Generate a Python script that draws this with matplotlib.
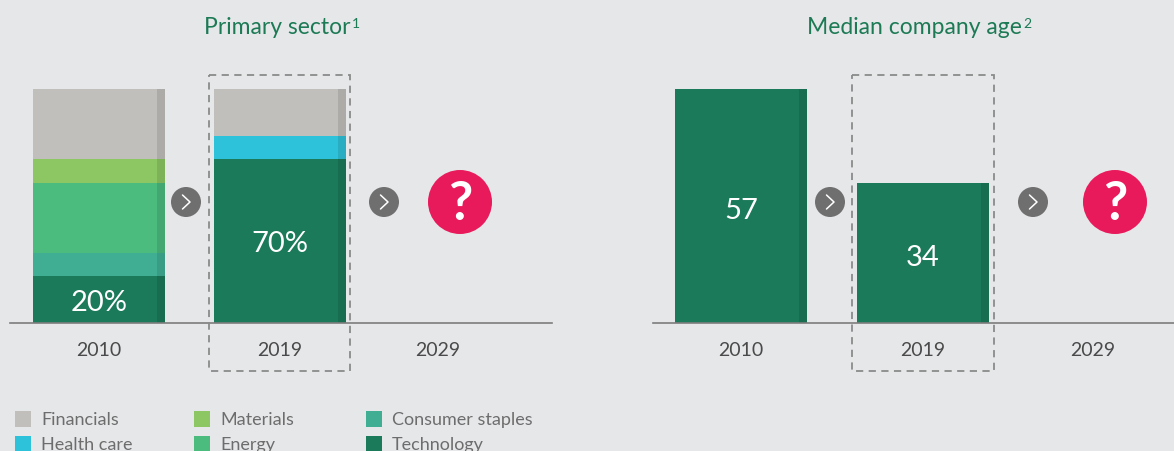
import numpy as np
import matplotlib.pyplot as plt
from matplotlib.patches import Rectangle, Circle

plt.rcParams['font.family'] = ['Lato', 'DejaVu Sans']

# data
years = ['2010', '2019', '2029']
sectors = ['Technology', 'Consumer staples', 'Energy', 'Materials', 'Health care', 'Financials']
share_2010 = [20, 10, 30, 10, 0, 30]
share_2019 = [70, 0, 0, 0, 10, 20]
age_years = ['2010', '2019', '2029']
median_age = [57, 34]

sector_colors = {
    'Financials': '#c0bfbc',
    'Health care': '#2ec1da',
    'Materials': '#8cc763',
    'Energy': '#4bbb7e',
    'Consumer staples': '#40ae93',
    'Technology': '#1b7a5a',
}
legend_order = [['Financials', 'Health care'], ['Materials', 'Energy'], ['Consumer staples', 'Technology']]

BG = '#e6e7e9'
GREEN = '#1b7a5a'
W, H = 1174, 452

fig = plt.figure(figsize=(W / 100, H / 100), dpi=100, facecolor=BG)


def px_axes(x0, x1, y0, y1):
    return fig.add_axes([x0 / W, 1 - y1 / H, (x1 - x0) / W, (y1 - y0) / H])


def style(ax):
    ax.set_facecolor('none')
    for s in ['top', 'right', 'left']:
        ax.spines[s].set_visible(False)
    ax.spines['bottom'].set_color('#7d7d7d')
    ax.spines['bottom'].set_linewidth(1.2)
    ax.set_yticks([])
    ax.tick_params(axis='x', length=0, pad=13, labelsize=14, labelcolor='#4a4a4a')


bar_w = 132
strip_w = 8

# left panel: primary sector
axl = px_axes(10, 552, 90, 324)
axl.set_xlim(10, 552)
axl.set_ylim(0, 100)
xl = [99, 280, 438]
for x, shares in zip(xl[:2], [share_2010, share_2019]):
    bottom = 0
    for name, v in zip(sectors, shares):
        if v > 0:
            axl.bar(x, v, width=bar_w, bottom=bottom, color=sector_colors[name], linewidth=0)
            axl.bar(x + bar_w / 2 - strip_w / 2, v, width=strip_w, bottom=bottom,
                    color='black', alpha=0.1, linewidth=0)
        bottom += v
axl.set_xticks(xl)
axl.set_xticklabels(years)
style(axl)
axl.text(xl[0], share_2010[0] / 2 - 1, f'{share_2010[0]}%', ha='center', va='center',
         color='white', fontsize=21)
axl.text(xl[1], share_2019[0] / 2 - 1, f'{share_2019[0]}%', ha='center', va='center',
         color='white', fontsize=21)

# right panel: median company age
axr = px_axes(653, 1174, 90, 324)
axr.set_xlim(653, 1174)
axr.set_ylim(0, 57)
xr = [741, 923, 1093]
axr.bar(xr[:2], median_age, width=bar_w, color=GREEN, linewidth=0)
axr.bar([x + bar_w / 2 - strip_w / 2 for x in xr[:2]], median_age, width=strip_w,
        color='black', alpha=0.1, linewidth=0)
axr.set_xticks(xr)
axr.set_xticklabels(age_years)
style(axr)
for x, v in zip(xr[:2], median_age):
    axr.text(x, v / 2 - 1, str(v), ha='center', va='center', color='white', fontsize=21)

# overlay for decorations
ov = fig.add_axes([0, 0, 1, 1])
ov.set_xlim(0, W)
ov.set_ylim(H, 0)
ov.axis('off')
ov.set_facecolor('none')

for cx, title, sup in [(277, 'Primary sector', '1'), (914, 'Median company age', '2')]:
    t = ov.text(cx, 27, title, ha='center', va='center', color='#1c7a55', fontsize=16.5)
    ov.annotate(sup, xy=(1, 0.92), xycoords=t, xytext=(1, 0), textcoords='offset points',
                ha='left', va='top', color='#1c7a55', fontsize=10)

for (x0, x1) in [(209, 350), (852, 994)]:
    ov.add_patch(Rectangle((x0, 76), x1 - x0, 296, fill=False, edgecolor='#8a8a8a',
                           linestyle=(0, (4, 3)), linewidth=1.3))

for cx in [186, 384, 830, 1033]:
    ov.add_patch(Circle((cx, 203), 15, color='#6f6f6f', linewidth=0))
    ov.plot([cx - 3.5, cx + 4, cx - 3.5], [196, 203, 210], color='white', lw=1.1,
            solid_capstyle='round')

for cx in [460, 1115]:
    ov.add_patch(Circle((cx, 203), 32, color='#e81a5b', linewidth=0))
    ov.text(cx, 205, '?', ha='center', va='center', color='white', fontsize=38, fontweight='bold')

# legend
col_x = [15, 194, 366]
row_y = [420, 445]
for cx, names in zip(col_x, legend_order):
    for ry, name in zip(row_y, names):
        ov.add_patch(Rectangle((cx, ry - 8), 16, 16, color=sector_colors[name], linewidth=0))
        ov.text(cx + 26, ry, name, ha='left', va='center', color='#6d6d6d', fontsize=13)

fig.savefig('out.png', dpi=100, facecolor=BG)
